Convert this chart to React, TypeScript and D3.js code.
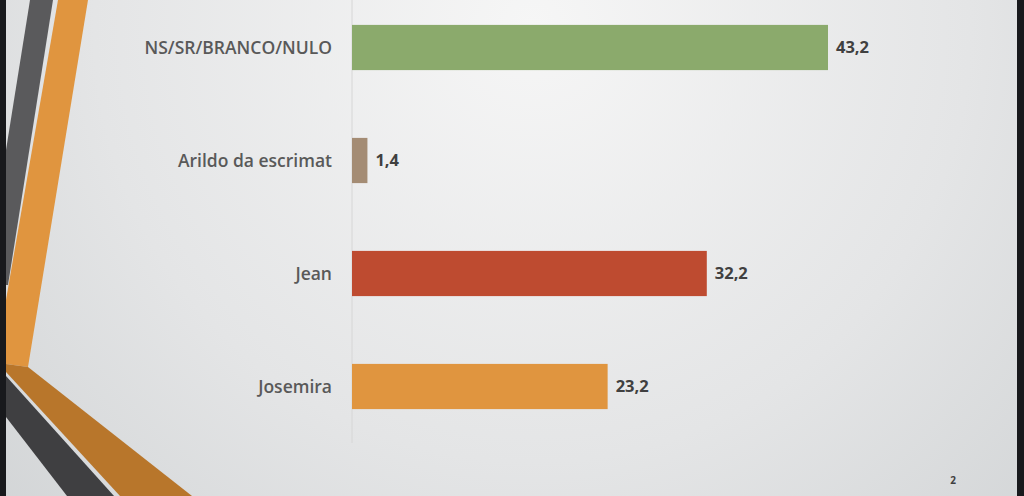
import React from "react";
import * as d3 from "d3";

const categories = ["NS/SR/BRANCO/NULO", "Arildo da escrimat", "Jean", "Josemira"];
const values = [43.2, 1.4, 32.2, 23.2];
const barColors = ["#8BAA6C", "#A48C74", "#BE4B30", "#E0953F"];
const valueLabels = ["43,2", "1,4", "32,2", "23,2"];
const pageNumber = "2";

const W = 1024;
const H = 496;

export default function App() {
  const x = d3.scaleLinear().domain([0, 43.2]).range([352, 828]);
  const y = d3
    .scaleBand<string>()
    .domain(categories)
    .range([-9, 443])
    .paddingInner(0.6)
    .paddingOuter(0.3);

  const fontLabel = "'Open Sans', 'Noto Sans', sans-serif";

  return (
    <svg
      width={W}
      height={H}
      style={{ position: "absolute", left: 0, top: 0, display: "block" }}
    >
      <defs>
        <radialGradient id="bg" cx="0.52" cy="0.05" r="0.95" gradientUnits="objectBoundingBox" gradientTransform="translate(0.52,0.05) scale(1,2.06) translate(-0.52,-0.05)">
          <stop offset="0" stopColor="#f6f6f6" />
          <stop offset="0.45" stopColor="#e4e5e6" />
          <stop offset="1" stopColor="#c3c7c9" />
        </radialGradient>
      </defs>
      <rect x={0} y={0} width={W} height={H} fill="url(#bg)" />

      {/* decorative stripes */}
      <polygon points="30,0 53,0 8,285 6,285 6,150" fill="#5a5a5c" />
      <polygon points="58,0 88,0 28,367 6,364 6,300" fill="#E0953F" />
      <polygon points="6,364 28,367 192,496 120,496 6,372" fill="#B8762B" />
      <polygon points="6,376 114,496 67,496 6,417" fill="#3f3f41" />
      <rect x={0} y={0} width={6} height={H} fill="#18191c" />
      <rect x={1017} y={0} width={7} height={H} fill="#18191c" />

      {/* axis line */}
      <line x1={352} x2={352} y1={0} y2={443} stroke="#d6d6d6" strokeWidth={1} />

      {categories.map((c, i) => {
        const by = y(c)!;
        const bh = y.bandwidth();
        return (
          <g key={c}>
            <rect
              x={x(0)}
              y={by}
              width={x(values[i]) - x(0)}
              height={bh}
              fill={barColors[i]}
            />
            <text
              x={332}
              y={by + bh / 2}
              dy="0.35em"
              textAnchor="end"
              fontFamily={fontLabel}
              fontWeight={600}
              fontSize={17.5}
              fill="#595959"
            >
              {c}
            </text>
            <text
              x={x(values[i]) + 8}
              y={by + bh / 2}
              dy="0.35em"
              fontFamily={fontLabel}
              fontWeight={700}
              fontSize={16.5}
              fill="#404040"
            >
              {valueLabels[i]}
            </text>
          </g>
        );
      })}

      <text
        x={953}
        y={484}
        textAnchor="middle"
        fontFamily={fontLabel}
        fontWeight={700}
        fontSize={10}
        fill="#404040"
      >
        {pageNumber}
      </text>
    </svg>
  );
}
